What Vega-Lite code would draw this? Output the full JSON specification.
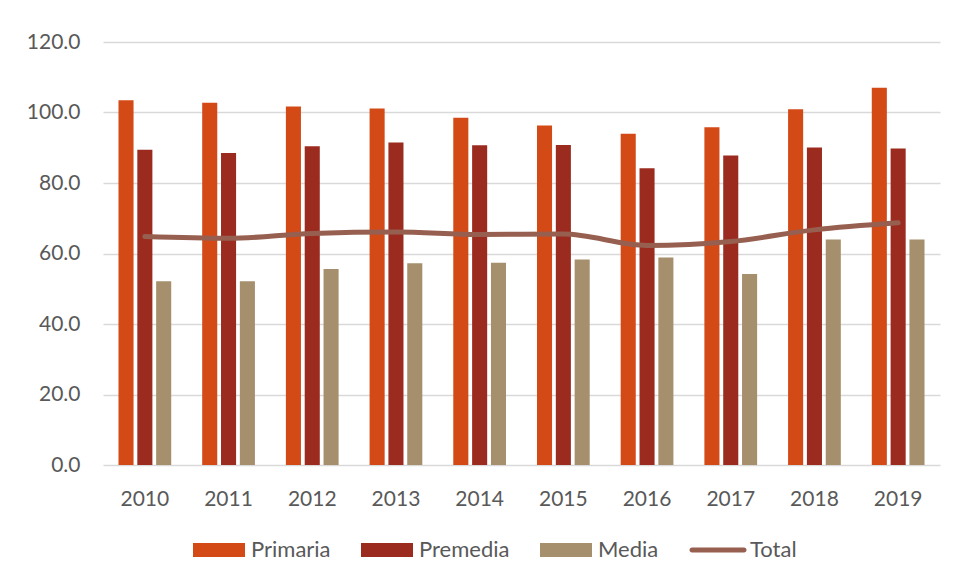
{
  "$schema": "https://vega.github.io/schema/vega-lite/v6.json",
  "width": 837,
  "height": 423,
  "autosize": {"type": "none"},
  "padding": {"left": 103, "top": 42, "right": 16, "bottom": 115},
  "background": "#ffffff",
  "config": {
    "view": {"stroke": null},
    "font": "Lato",
    "axis": {"labelFont": "Lato", "labelFontSize": 21, "labelColor": "#595959"},
    "legend": {"labelFont": "Lato", "labelFontSize": 22, "labelColor": "#595959"}
  },
  "data": {
    "values": [
      {"year": "2010", "serie": "Primaria", "value": 103.5},
      {"year": "2010", "serie": "Premedia", "value": 89.4},
      {"year": "2010", "serie": "Media", "value": 52.1},
      {"year": "2010", "serie": "Total", "value": 64.8},
      {"year": "2011", "serie": "Primaria", "value": 102.8},
      {"year": "2011", "serie": "Premedia", "value": 88.5},
      {"year": "2011", "serie": "Media", "value": 52.1},
      {"year": "2011", "serie": "Total", "value": 64.3},
      {"year": "2012", "serie": "Primaria", "value": 101.7},
      {"year": "2012", "serie": "Premedia", "value": 90.4},
      {"year": "2012", "serie": "Media", "value": 55.6},
      {"year": "2012", "serie": "Total", "value": 65.7},
      {"year": "2013", "serie": "Primaria", "value": 101.1},
      {"year": "2013", "serie": "Premedia", "value": 91.5},
      {"year": "2013", "serie": "Media", "value": 57.2},
      {"year": "2013", "serie": "Total", "value": 66.1},
      {"year": "2014", "serie": "Primaria", "value": 98.5},
      {"year": "2014", "serie": "Premedia", "value": 90.7},
      {"year": "2014", "serie": "Media", "value": 57.4},
      {"year": "2014", "serie": "Total", "value": 65.4},
      {"year": "2015", "serie": "Primaria", "value": 96.3},
      {"year": "2015", "serie": "Premedia", "value": 90.8},
      {"year": "2015", "serie": "Media", "value": 58.3},
      {"year": "2015", "serie": "Total", "value": 65.5},
      {"year": "2016", "serie": "Primaria", "value": 94.0},
      {"year": "2016", "serie": "Premedia", "value": 84.2},
      {"year": "2016", "serie": "Media", "value": 58.9},
      {"year": "2016", "serie": "Total", "value": 62.3},
      {"year": "2017", "serie": "Primaria", "value": 95.8},
      {"year": "2017", "serie": "Premedia", "value": 87.8},
      {"year": "2017", "serie": "Media", "value": 54.2},
      {"year": "2017", "serie": "Total", "value": 63.4},
      {"year": "2018", "serie": "Primaria", "value": 100.9},
      {"year": "2018", "serie": "Premedia", "value": 90.1},
      {"year": "2018", "serie": "Media", "value": 64.0},
      {"year": "2018", "serie": "Total", "value": 66.7},
      {"year": "2019", "serie": "Primaria", "value": 107.0},
      {"year": "2019", "serie": "Premedia", "value": 89.8},
      {"year": "2019", "serie": "Media", "value": 64.0},
      {"year": "2019", "serie": "Total", "value": 68.7}
    ]
  },
  "encoding": {
    "x": {
      "field": "year",
      "type": "ordinal",
      "scale": {"paddingInner": 0.37, "paddingOuter": 0.185},
      "axis": {
        "title": null,
        "labelAngle": 0,
        "domain": false,
        "ticks": false,
        "labelPadding": 23
      }
    },
    "y": {
      "field": "value",
      "type": "quantitative",
      "scale": {"domain": [0, 120], "nice": false},
      "axis": {
        "title": null,
        "values": [0, 20, 40, 60, 80, 100, 120],
        "format": ".1f",
        "domain": false,
        "ticks": false,
        "grid": true,
        "gridColor": "#D9D9D9",
        "gridWidth": 1.3,
        "labelPadding": 23
      }
    },
    "color": {
      "field": "serie",
      "type": "nominal",
      "scale": {
        "domain": ["Primaria", "Premedia", "Media", "Total"],
        "range": ["#D34A17", "#9B2B1F", "#A58F6C", "#975F4F"]
      },
      "legend": {
        "title": null,
        "orient": "none",
        "direction": "horizontal",
        "columns": 4,
        "legendX": 90,
        "legendY": 482,
        "padding": 0,
        "symbolSize": 2704,
        "symbolStrokeWidth": 0,
        "labelOffset": 6,
        "columnPadding": 30,
        "encode": {
          "symbols": {
            "update": {
              "shape": {"signal": "datum.value === 'Total' ? 'M-1,-0.096H1A0.096,0.096 0 0 1 1,0.096H-1A0.096,0.096 0 0 1 -1,-0.096Z' : 'M-1,-0.27H1V0.27H-1Z'"},
              "size": {"value": 2704},
              "fill": {"scale": "color", "field": "value"},
              "strokeWidth": {"value": 0},
              "opacity": {"value": 1}
            }
          }
        }
      }
    }
  },
  "layer": [
    {
      "transform": [{"filter": "datum.serie !== 'Total'"}],
      "mark": {"type": "bar"},
      "encoding": {
        "xOffset": {
          "field": "serie",
          "type": "nominal",
          "sort": ["Primaria", "Premedia", "Media"],
          "scale": {"paddingInner": 0.2}
        }
      }
    },
    {
      "transform": [{"filter": "datum.serie === 'Total'"}],
      "mark": {"type": "line", "strokeWidth": 5, "strokeCap": "round", "strokeJoin": "round", "interpolate": "monotone"},
      "encoding": {}
    }
  ]
}
